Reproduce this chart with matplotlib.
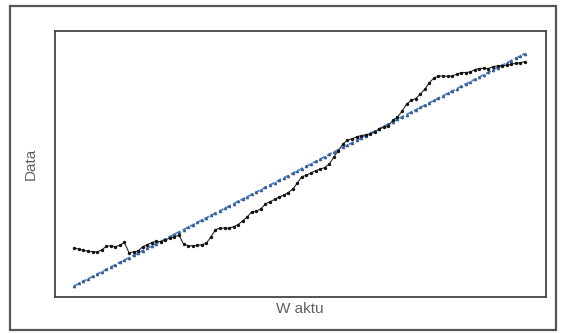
import matplotlib.pyplot as plt
import numpy as np
from matplotlib.patches import Rectangle

plt.rcParams["font.family"] = ["Liberation Sans", "DejaVu Sans"]

# observed series, one value per period
periods = np.arange(1, 101)
actual = [
    18.4, 17.9, 17.5, 17.2, 17.0, 16.9, 17.6, 19.0, 19.2, 18.9,
    19.4, 20.5, 16.6, 16.9, 17.3, 18.8, 19.6, 20.4, 20.9, 20.7,
    21.4, 22.2, 22.6, 23.2, 19.8, 19.3, 19.2, 19.4, 19.6, 20.2,
    22.5, 25.3, 25.8, 25.9, 25.8, 26.4, 27.2, 28.6, 30.1, 32.0,
    32.1, 33.2, 34.9, 35.8, 36.6, 37.5, 38.2, 39.2, 40.5, 42.8,
    45.2, 45.7, 46.6, 47.4, 48.0, 48.6, 49.9, 52.5, 55.0, 57.4,
    58.9, 59.4, 60.1, 60.6, 60.9, 61.3, 61.9, 63.1, 63.8, 64.2,
    66.4, 67.5, 69.8, 72.4, 73.8, 74.5, 76.2, 78.0, 80.5, 82.2,
    83.0, 83.0, 82.9, 83.0, 83.6, 84.3, 84.3, 84.5, 85.4, 85.8,
    85.9, 85.8, 86.5, 86.8, 86.8, 87.0, 87.4, 87.8, 88.0, 88.4,
]
x_label = "W aktu"
y_label = "Data"

# linear trend fitted to the observations
coef = np.polyfit(periods, actual, 1)
fits = np.polyval(coef, periods)

fig = plt.figure(figsize=(5.63, 3.34), dpi=100)
fig.patch.set_facecolor("white")
fig.patches.append(Rectangle((0.018, 0.012), 0.97, 0.97, transform=fig.transFigure,
                             fill=False, edgecolor="#555555", linewidth=1.6))

ax = fig.add_axes([0.097, 0.111, 0.8725, 0.797])
ax.plot(periods, fits, color="#4f86d6", linestyle=(0, (3, 1.5)), linewidth=1.3,
        marker="^", markersize=1.6, markerfacecolor="#3d5f8f",
        markeredgecolor="#3d5f8f", zorder=2)
ax.plot(periods, actual, color="#2a2a2a", linewidth=0.8,
        marker="o", markersize=1.4, markerfacecolor="#111111",
        markeredgecolor="#111111", zorder=3)

ax.set_xlim(-3.34, 104.6)
ax.set_ylim(0, 100)
ax.set_xticks([])
ax.set_yticks([])
for s in ax.spines.values():
    s.set_color("#444444")
    s.set_linewidth(1.3)

ax.set_xlabel(x_label, fontsize=11, color="#606060", labelpad=4)
ax.set_ylabel(y_label, fontsize=11, color="#606060", labelpad=12)

plt.savefig("out.png", dpi=100)
